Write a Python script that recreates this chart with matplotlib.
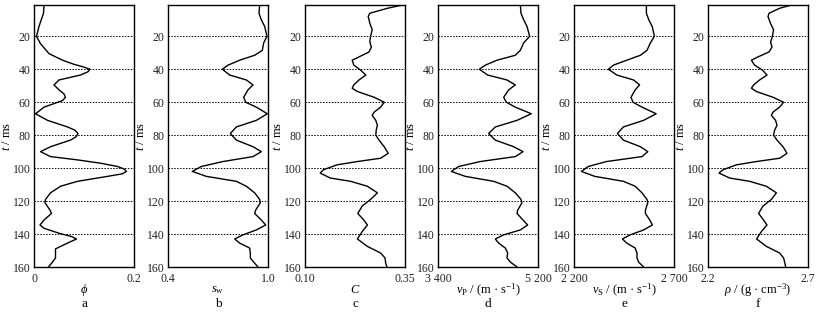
import matplotlib
matplotlib.use('Agg')
import matplotlib.pyplot as plt

plt.rcParams['font.family'] = ['Liberation Serif', 'DejaVu Serif']
plt.rcParams['mathtext.fontset'] = 'custom'
plt.rcParams['mathtext.rm'] = 'Liberation Serif'
plt.rcParams['mathtext.it'] = 'Liberation Serif:italic'

# time samples (ms)
t_a = [1, 6, 14, 20, 24.5, 30.5, 34.5, 37, 38.5, 40, 41.5, 43.5, 46.5, 49.5, 52.5, 55, 57, 59, 63,
       67, 71, 75, 77, 79, 81, 83, 87, 90, 93, 95, 97, 99, 100.5, 102, 103.5, 105, 108, 111, 115,
       119, 121, 125.5, 127.5, 131.5, 134.5, 136.5, 139.5, 141.5, 143, 145.5, 149, 151.5, 154.5,
       157, 160]
t_v = [1, 6, 10, 14, 20, 24, 28.5, 31.5, 34.5, 37.5, 40, 43.5, 46.5, 49.5, 52.5, 57, 60, 63, 67,
       71, 75, 79, 83, 87, 90, 93, 96, 99, 102, 105, 108, 111, 115, 119, 121, 125.5, 127.5, 131.5,
       134.5, 137.5, 140.5, 143, 145.5, 148.5, 151.5, 154.5, 157, 160]
t_c = [1, 3, 6, 8, 12, 16, 20, 23.5, 26.5, 29.5, 32.5, 34.5, 37.5, 40.5, 43.5, 46.5, 49.5, 51.5,
       53.5, 57, 60, 63, 66, 68, 71, 74, 77, 80, 83, 87, 91, 94, 96, 98, 101, 103, 106, 108, 111,
       115, 119, 123, 127.5, 131.5, 134.5, 138.5, 143, 147.5, 151.5, 154.5, 158, 160]

phi = [0.020, 0.019, 0.010, 0.005, 0.013, 0.030, 0.057, 0.080, 0.098, 0.112, 0.108, 0.093, 0.050,
       0.040, 0.050, 0.060, 0.063, 0.057, 0.020, 0.003, 0.027, 0.067, 0.082, 0.088, 0.084, 0.073,
       0.033, 0.013, 0.033, 0.087, 0.133, 0.167, 0.180, 0.185, 0.176, 0.147, 0.087, 0.053, 0.033,
       0.023, 0.022, 0.032, 0.035, 0.020, 0.012, 0.020, 0.050, 0.075, 0.085, 0.067, 0.043, 0.043,
       0.043, 0.037, 0.029]
sw = [0.950, 0.946, 0.960, 0.980, 0.994, 0.974, 0.966, 0.920, 0.830, 0.760, 0.726, 0.770, 0.870,
      0.910, 0.880, 0.854, 0.866, 0.930, 0.996, 0.930, 0.810, 0.774, 0.810, 0.910, 0.960, 0.910,
      0.730, 0.600, 0.546, 0.630, 0.810, 0.870, 0.920, 0.950, 0.954, 0.926, 0.920, 0.960, 0.986,
      0.930, 0.850, 0.800, 0.830, 0.890, 0.894, 0.894, 0.914, 0.940]
clay = [0.344, 0.306, 0.262, 0.258, 0.262, 0.268, 0.264, 0.262, 0.266, 0.260, 0.235, 0.218, 0.222,
        0.239, 0.252, 0.235, 0.222, 0.218, 0.231, 0.273, 0.298, 0.289, 0.273, 0.268, 0.277, 0.281,
        0.278, 0.277, 0.285, 0.298, 0.308, 0.289, 0.231, 0.180, 0.146, 0.138, 0.163, 0.214, 0.256,
        0.281, 0.264, 0.243, 0.232, 0.247, 0.256, 0.243, 0.231, 0.256, 0.289, 0.300, 0.302, 0.305]
vp = [4882, 4894, 4942, 5002, 5050, 4942, 4882, 4792, 4462, 4252, 4144, 4294, 4642, 4792, 4672,
      4582, 4630, 4792, 5080, 4822, 4432, 4312, 4432, 4762, 4930, 4792, 4162, 3772, 3640, 3892,
      4402, 4642, 4792, 4894, 4912, 4834, 4822, 4930, 5014, 4882, 4582, 4432, 4492, 4612, 4654,
      4642, 4702, 4822]
vs = [2562, 2562, 2574, 2591, 2602, 2582, 2565, 2532, 2464, 2397, 2372, 2414, 2498, 2528, 2506,
      2485, 2495, 2540, 2611, 2548, 2447, 2417, 2447, 2532, 2569, 2540, 2363, 2271, 2237, 2304,
      2447, 2506, 2540, 2565, 2569, 2557, 2557, 2579, 2592, 2548, 2481, 2442, 2464, 2506, 2515,
      2515, 2523, 2548]
rho = [2.617, 2.558, 2.505, 2.500, 2.512, 2.528, 2.522, 2.513, 2.520, 2.505, 2.450, 2.417, 2.433,
       2.472, 2.495, 2.458, 2.428, 2.417, 2.442, 2.525, 2.578, 2.558, 2.525, 2.517, 2.538, 2.545,
       2.533, 2.528, 2.545, 2.575, 2.595, 2.558, 2.442, 2.342, 2.275, 2.255, 2.308, 2.408, 2.492,
       2.542, 2.517, 2.475, 2.453, 2.478, 2.495, 2.467, 2.443, 2.492, 2.558, 2.578, 2.585, 2.588]

panels = [
    (t_a, phi, (0, 0.2), ['0', '0.2'], r'$\phi$', 'a'),
    (t_v, sw, (0.4, 1.0), ['0.4', '1.0'], r'$s_{\mathrm{w}}$', 'b'),
    (t_c, clay, (0.10, 0.35), ['0.10', '0.35'], r'$C$', 'c'),
    (t_v, vp, (3400, 5200), ['3 400', '5 200'], r'$v_{\mathrm{P}}$ / (m · s$^{-1}$)', 'd'),
    (t_v, vs, (2200, 2700), ['2 200', '2 700'], r'$v_{\mathrm{S}}$ / (m · s$^{-1}$)', 'e'),
    (t_c, rho, (2.2, 2.7), ['2.2', '2.7'], r'$\rho$ / (g · cm$^{-3}$)', 'f'),
]

W, H = 831, 313
fig = plt.figure(figsize=(W / 100, H / 100), dpi=100)
lefts = [34, 168, 305, 438, 574, 708]

for left, (t, x, xlim, xlabels, name, letter) in zip(lefts, panels):
    ax = fig.add_axes([left / W, 46 / H, 100 / W, 262 / H])
    ax.plot(x, t, color='black', lw=1.0, solid_joinstyle='round')
    ax.set_xlim(*xlim)
    ax.set_ylim(160, 1)
    ax.set_xticks(list(xlim))
    ax.set_xticklabels(xlabels)
    ax.set_yticks(range(20, 161, 20))
    ax.tick_params(length=0, labelsize=8.5, colors='#222222')
    ax.tick_params(axis='x', pad=4.5)
    ax.tick_params(axis='y', pad=2.5)
    for g in range(20, 160, 20):
        ax.axhline(g, color='black', lw=0.7, ls=(0, (1.5, 1.5)), zorder=0)
    for s in ax.spines.values():
        s.set_linewidth(1.0)
    ax.set_ylabel(r'$t$ / ms', fontsize=9, labelpad=0)
    ax.text(0.5, -0.088, name, transform=ax.transAxes, ha='center', va='center', fontsize=9)
    ax.text(0.5, -0.14, letter, transform=ax.transAxes, ha='center', va='center', fontsize=9.5)

fig.savefig('out.png', dpi=100)
